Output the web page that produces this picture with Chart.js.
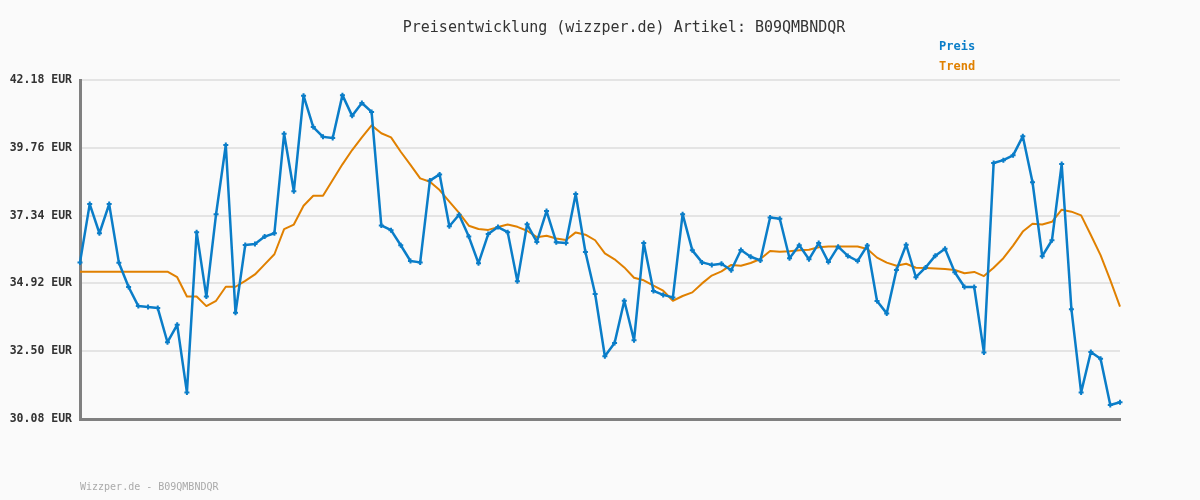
<!DOCTYPE html>
<html>
<head>
<meta charset="utf-8">
<script src="https://cdn.jsdelivr.net/npm/chart.js@4/dist/chart.umd.min.js"></script>
<style>
  html, body { margin: 0; padding: 0; background: #fafafa; }
  #wrap { width: 1200px; height: 500px; position: relative; }
</style>
</head>
<body>
<div id="wrap"><canvas id="priceChart"></canvas></div>
<script>
const TITLE = "Preisentwicklung (wizzper.de) Artikel: B09QMBNDQR";
const FOOTER = "Wizzper.de - B09QMBNDQR";
const SERIES_NAMES = ["Preis", "Trend"];
const Y_TICKS = [30.08, 32.50, 34.92, 37.34, 39.76, 42.18];

const price = [
  35.67, 37.75, 36.71, 37.75, 35.66, 34.79, 34.11, 34.08, 34.04, 32.82,
  33.44, 31.03, 36.75, 34.45, 37.39, 39.86, 33.87, 36.29, 36.33, 36.59,
  36.71, 40.26, 38.21, 41.62, 40.50, 40.15, 40.11, 41.64, 40.90, 41.36,
  41.04, 36.99, 36.82, 36.28, 35.72, 35.67, 38.59, 38.81, 36.96, 37.37,
  36.59, 35.64, 36.68, 36.93, 36.75, 35.00, 37.03, 36.40, 37.50, 36.39,
  36.36, 38.11, 36.04, 34.54, 32.32, 32.79, 34.30, 32.89, 36.36, 34.65,
  34.51, 34.42, 37.39, 36.10, 35.67, 35.58, 35.62, 35.39, 36.11, 35.87,
  35.74, 37.27, 37.23, 35.82, 36.28, 35.78, 36.36, 35.68, 36.23, 35.90,
  35.72, 36.27, 34.29, 33.85, 35.40, 36.30, 35.14, 35.49, 35.91, 36.16,
  35.32, 34.79, 34.79, 32.45, 39.22, 39.32, 39.49, 40.17, 38.53, 35.89,
  36.46, 39.18, 34.00, 31.03, 32.47, 32.23, 30.58, 30.68
];

const trend = [
  35.34, 35.34, 35.34, 35.34, 35.34, 35.34, 35.34, 35.34, 35.34, 35.34,
  35.14, 34.45, 34.45, 34.11, 34.30, 34.80, 34.80, 35.01, 35.24, 35.60,
  35.96, 36.86, 37.02, 37.69, 38.05, 38.05, 38.61, 39.17, 39.68, 40.13,
  40.56, 40.28, 40.13, 39.62, 39.15, 38.67, 38.55, 38.25, 37.84, 37.44,
  36.98, 36.86, 36.83, 36.93, 37.02, 36.94, 36.80, 36.57, 36.62, 36.52,
  36.47, 36.74, 36.66, 36.46, 35.99, 35.78, 35.49, 35.12, 35.03, 34.84,
  34.66, 34.30, 34.47, 34.60, 34.92, 35.20, 35.35, 35.58, 35.55, 35.65,
  35.79, 36.08, 36.05, 36.07, 36.10, 36.12, 36.21, 36.24, 36.24, 36.24,
  36.24, 36.15, 35.84, 35.66, 35.55, 35.62, 35.48, 35.47, 35.45, 35.43,
  35.40, 35.28, 35.33, 35.18, 35.48, 35.82, 36.27, 36.77, 37.05, 37.02,
  37.12, 37.55, 37.48, 37.35, 36.65, 35.93, 35.04, 34.09
];

const categories = price.map((_, i) => String(i + 1));

const BLUE = "rgb(10,125,200)";
const ORANGE = "rgb(224,128,0)";
const MONO = "'DejaVu Sans Mono', 'Liberation Mono', monospace";

// title, legend and footer text drawn on the canvas
const textPlugin = {
  id: "textPlugin",
  afterDraw(chart) {
    const ctx = chart.ctx;
    ctx.save();
    ctx.textBaseline = "middle";
    ctx.font = "15px " + MONO;
    ctx.fillStyle = "#333";
    ctx.textAlign = "center";
    ctx.fillText(TITLE, 624, 28);

    ctx.textAlign = "left";
    ctx.font = "bold 12px " + MONO;
    ctx.fillStyle = BLUE;
    ctx.fillText(SERIES_NAMES[0], 939, 47);
    ctx.fillStyle = ORANGE;
    ctx.fillText(SERIES_NAMES[1], 939, 67);

    ctx.font = "10px " + MONO;
    ctx.fillStyle = "#aaa";
    ctx.fillText(FOOTER, 80, 487);
    ctx.restore();
  }
};

new Chart(document.getElementById("priceChart"), {
  type: "line",
  data: {
    labels: categories,
    datasets: [
      {
        label: SERIES_NAMES[1],
        data: trend,
        borderColor: ORANGE,
        borderWidth: 2,
        borderJoinStyle: "round",
        pointRadius: 0,
        tension: 0,
        order: 2
      },
      {
        label: SERIES_NAMES[0],
        data: price,
        borderColor: BLUE,
        backgroundColor: BLUE,
        borderWidth: 2.5,
        borderJoinStyle: "round",
        pointStyle: "cross",
        pointRadius: 2.5,
        pointBorderWidth: 2,
        pointBorderColor: BLUE,
        tension: 0,
        order: 1
      }
    ]
  },
  options: {
    responsive: true,
    maintainAspectRatio: false,
    animation: false,
    layout: { padding: { left: 0, right: 80, top: 80, bottom: 81 } },
    plugins: {
      legend: { display: false },
      title: { display: false },
      tooltip: { enabled: false }
    },
    scales: {
      x: {
        offset: false,
        ticks: { display: false },
        grid: { display: false, drawTicks: false },
        border: { display: true, color: "#808080", width: 3 },
        afterFit(scale) { scale.height = 0; }
      },
      y: {
        min: Y_TICKS[0],
        max: Y_TICKS[Y_TICKS.length - 1],
        afterBuildTicks(scale) {
          scale.ticks = Y_TICKS.map(v => ({ value: v }));
        },
        afterFit(scale) { scale.width = 80; },
        ticks: {
          padding: 8,
          color: "#333",
          font: { family: MONO, size: 11.5, weight: "bold" },
          callback: v => Number(v).toFixed(2) + " EUR"
        },
        grid: { color: "#e4e4e4", lineWidth: 2, drawTicks: false },
        border: { display: true, color: "#808080", width: 3 }
      }
    }
  },
  plugins: [textPlugin]
});
</script>
</body>
</html>
